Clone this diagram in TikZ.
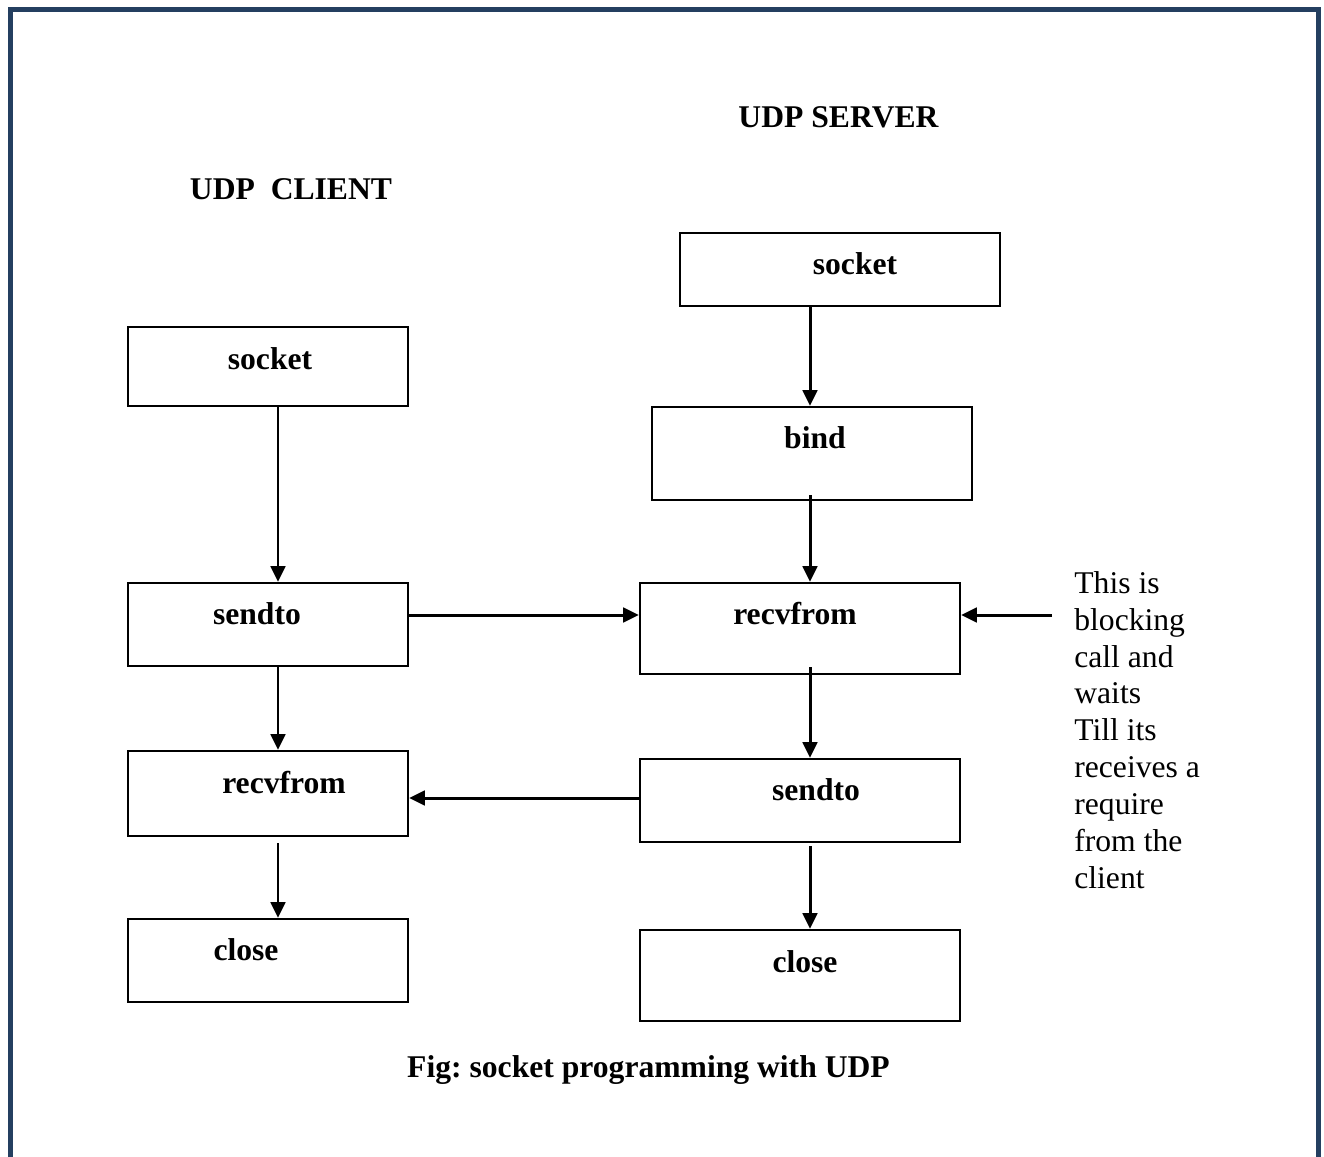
\documentclass[tikz,border=0pt]{standalone}
\usepackage{fontspec}
\setmainfont{Liberation Serif}
\usetikzlibrary{arrows.meta}
\definecolor{framenavy}{HTML}{243F60}
\tikzset{
    callbox/.style={draw, line width=1.3pt, inner sep=0pt, minimum width=5.6cm},
    srvbox/.style={callbox, minimum width=6.4cm},
    lbl/.style={font=\fontsize{18}{21}\selectfont\bfseries, anchor=base, inner sep=0pt},
    flow/.style={line width=1.7pt, -{Triangle[length=9pt, width=8.3pt]}},
}
\begin{document}
\begin{tikzpicture}[line cap=butt, line join=miter, x=0.02cm, y=-0.02cm]

    \useasboundingbox (0,0) rectangle (1324,1156);
    \draw[framenavy, line width=2.8pt] (10.5,1170) -- (10.5,9.8) -- (1318.5,9.8) -- (1318.5,1170);

    % headings
    \node[lbl] (server-h) at (838.5,127) {UDP SERVER};
    \node[lbl] (client-h) at (291,199) {UDP~~CLIENT};

    % client side
    \node[callbox, minimum height=1.58cm] (csocket) at (268,366.5) {};
    \node[callbox, minimum height=1.66cm] (csendto) at (268,624.5) {};
    \node[callbox, minimum height=1.70cm] (crecv) at (268,793.5) {};
    \node[callbox, minimum height=1.66cm] (cclose) at (268,960.5) {};
    \node[lbl] (csocket-t) at (270,369) {socket};
    \node[lbl] (csendto-t) at (257,624) {sendto};
    \node[lbl] (crecv-t) at (284,793) {recvfrom};
    \node[lbl] (cclose-t) at (246,960) {close};

    % server side
    \node[srvbox, minimum height=1.46cm] (ssocket) at (840,269.5) {};
    \node[srvbox, minimum height=1.86cm] (sbind) at (812,453.5) {};
    \node[srvbox, minimum height=1.82cm] (srecv) at (800,628.5) {};
    \node[srvbox, minimum height=1.66cm] (ssendto) at (800,800.5) {};
    \node[srvbox, minimum height=1.82cm] (sclose) at (800,975.5) {};
    \node[lbl] (ssocket-t) at (855,274) {socket};
    \node[lbl] (sbind-t) at (815,448) {bind};
    \node[lbl] (srecv-t) at (795,624) {recvfrom};
    \node[lbl] (ssendto-t) at (816,800) {sendto};
    \node[lbl] (sclose-t) at (805,972) {close};

    \node[anchor=north west, inner sep=0pt, align=left, font=\fontsize{18}{21}\selectfont] (note) at (1074,571)
        {This is\\blocking\\call and\\waits\\Till its\\receives a\\require\\from the\\client};

    \node[lbl] (caption) at (648.5,1077) {Fig:\ socket programming with UDP};

    \coordinate (ccol) at (278,0);
    \coordinate (scol) at (810,0);
    \coordinate (req) at (0,615);
    \coordinate (rep) at (0,798);
    \coordinate (blk) at (1052,615);

    \draw[flow] (csocket.south -| ccol) -- (csendto.north -| ccol);
    \draw[flow] (csendto.south -| ccol) -- (crecv.north -| ccol);
    \draw[flow, shorten <=3.4pt] (crecv.south -| ccol) -- (cclose.north -| ccol);

    \draw[flow] (ssocket.south -| scol) -- (sbind.north -| scol);
    \draw[flow, shorten <=-3.4pt] (sbind.south -| scol) -- (srecv.north -| scol);
    \draw[flow, shorten <=-4.5pt] (srecv.south -| scol) -- (ssendto.north -| scol);
    \draw[flow, shorten <=1.7pt] (ssendto.south -| scol) -- (sclose.north -| scol);

    \draw[flow] (csendto.east |- req) -- (srecv.west |- req);
    \draw[flow] (ssendto.west |- rep) -- (crecv.east |- rep);
    \draw[flow] (blk) -- (srecv.east |- req);

\end{tikzpicture}
\end{document}
